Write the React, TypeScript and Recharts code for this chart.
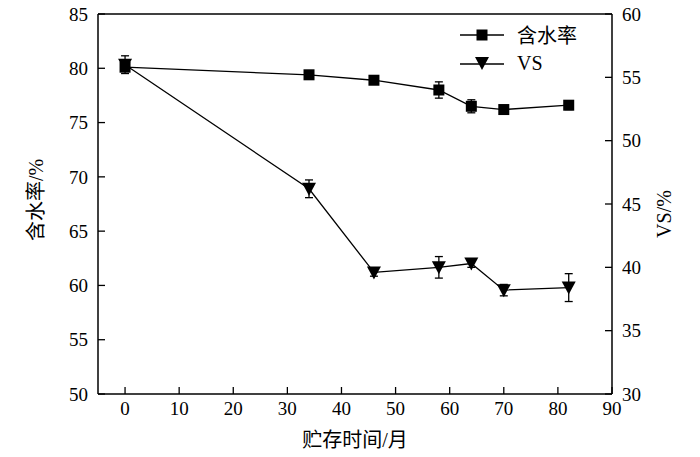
import React from 'react';
import { ComposedChart, Line, XAxis, YAxis, ErrorBar, Legend, ReferenceLine } from 'recharts';

const FONT = '"Liberation Serif", "Times New Roman", serif, "Noto Sans CJK SC"';

const months = [0, 34, 46, 58, 64, 70, 82];
const moisture = [80.1, 79.4, 78.9, 78.0, 76.5, 76.2, 76.6];
const moistureErr = [0.3, 0.2, 0.2, 0.75, 0.6, 0.2, 0.4];
const vs = [56.0, 46.2, 39.6, 40.0, 40.3, 38.2, 38.4];
const vsErr = [0.7, 0.7, 0.3, 0.85, 0.3, 0.45, 1.1];

const xTicks = [0, 10, 20, 30, 40, 50, 60, 70, 80, 90];
const leftTicks = [50, 55, 60, 65, 70, 75, 80, 85];
const rightTicks = [30, 35, 40, 45, 50, 55, 60];

const data = months.map((m, i) => ({
  month: m,
  moisture: moisture[i],
  moistureErr: moistureErr[i],
  vs: vs[i],
  vsErr: vsErr[i],
}));

const Square = ({ cx, cy }: any) => (
  <rect x={cx - 5.5} y={cy - 5.5} width={11} height={11} fill="#000" />
);

const DownTriangle = ({ cx, cy }: any) => (
  <polygon points={`${cx - 7},${cy - 6} ${cx + 7},${cy - 6} ${cx},${cy + 7}`} fill="#000" />
);

// ticks point into the plot on every axis
const LeftTick = ({ x, y, payload }: any) => (
  <g>
    <line x1={x + 10} y1={y} x2={x + 17} y2={y} stroke="#000" strokeWidth={1.3} />
    <text x={x} y={y} dy="0.35em" textAnchor="end" style={{ fontFamily: FONT }} fontSize={19} fill="#000">{payload.value}</text>
  </g>
);

const RightTick = ({ x, y, payload }: any) => (
  <g>
    <line x1={x - 10} y1={y} x2={x - 17} y2={y} stroke="#000" strokeWidth={1.3} />
    <text x={x} y={y} dy="0.35em" textAnchor="start" style={{ fontFamily: FONT }} fontSize={19} fill="#000">{payload.value}</text>
  </g>
);

const BottomTick = ({ x, y, payload }: any) => (
  <g>
    <line x1={x} y1={y - 8} x2={x} y2={y - 15} stroke="#000" strokeWidth={1.3} />
    <text x={x} y={y} dy="0.71em" textAnchor="middle" style={{ fontFamily: FONT }} fontSize={19} fill="#000">{payload.value}</text>
  </g>
);

const legendItems = [
  { name: '含水率', marker: 'square' },
  { name: 'VS', marker: 'triangle' },
];

const renderLegend = () => (
  <div style={{ fontFamily: FONT, fontSize: 20, color: '#000' }}>
    {legendItems.map((it) => (
      <div key={it.name} style={{ display: 'flex', alignItems: 'center', height: 29 }}>
        <svg width={44} height={20} style={{ marginRight: 13 }}>
          <line x1={0} y1={10} x2={44} y2={10} stroke="#000" strokeWidth={1.3} />
          {it.marker === 'square' ? <Square cx={22} cy={10} /> : <DownTriangle cx={22} cy={9} />}
        </svg>
        <span>{it.name}</span>
      </div>
    ))}
  </div>
);

export default function App() {
  return (
    <div style={{ position: 'absolute', left: 0, top: 0 }}>
      <ComposedChart width={700} height={457} data={data} margin={{ top: 14, right: 0, bottom: 0, left: 0 }}>
        <XAxis
          dataKey="month"
          type="number"
          domain={[-5, 90]}
          ticks={xTicks}
          allowDataOverflow
          height={63}
          stroke="#000"
          strokeWidth={1.5}
          tickLine={false}
          tick={<BottomTick />}
          label={{ value: '贮存时间/月', position: 'center', dy: 14, style: { fontFamily: FONT }, fontSize: 20, fill: '#000' }}
        />
        <YAxis
          yAxisId="left"
          orientation="left"
          domain={[50, 85]}
          ticks={leftTicks}
          width={98}
          stroke="#000"
          strokeWidth={1.5}
          tickLine={false}
          tickMargin={4}
          tick={<LeftTick />}
          label={{ value: '含水率/%', angle: -90, position: 'center', dx: -13, dy: -4, style: { fontFamily: FONT }, fontSize: 20, fill: '#000' }}
        />
        <YAxis
          yAxisId="right"
          orientation="right"
          domain={[30, 60]}
          ticks={rightTicks}
          width={88}
          stroke="#000"
          strokeWidth={1.5}
          tickLine={false}
          tickMargin={4}
          tick={<RightTick />}
          label={{ value: 'VS/%', angle: -90, position: 'center', dx: 8, dy: 10, style: { fontFamily: FONT }, fontSize: 20, fill: '#000' }}
        />
        <ReferenceLine yAxisId="left" y={85} stroke="#000" strokeWidth={1.5} />
        <Legend
          content={renderLegend}
          layout="vertical"
          align="center"
          verticalAlign="middle"
          wrapperStyle={{ left: 460, top: 20, width: 150 }}
        />
        <Line
          yAxisId="left"
          dataKey="moisture"
          stroke="#000"
          strokeWidth={1.3}
          dot={<Square />}
          isAnimationActive={false}
          legendType="none"
        >
          <ErrorBar dataKey="moistureErr" width={4} stroke="#000" strokeWidth={1.3} direction="y" />
        </Line>
        <Line
          yAxisId="right"
          dataKey="vs"
          stroke="#000"
          strokeWidth={1.3}
          dot={<DownTriangle />}
          isAnimationActive={false}
          legendType="none"
        >
          <ErrorBar dataKey="vsErr" width={4} stroke="#000" strokeWidth={1.3} direction="y" />
        </Line>
      </ComposedChart>
    </div>
  );
}
